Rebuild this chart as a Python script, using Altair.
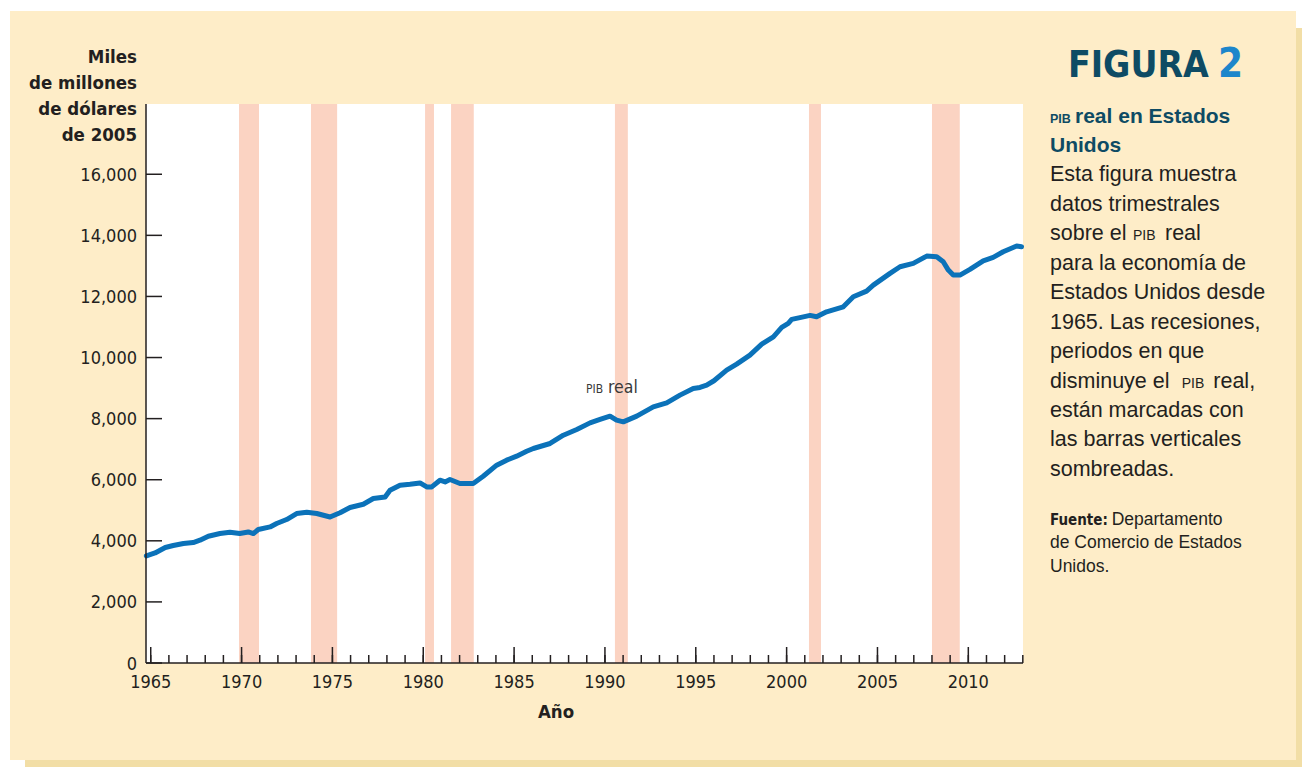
import altair as alt
import pandas as pd

# ---------------- data ----------------
years = [1964.76, 1965.24, 1965.80, 1966.24, 1966.80, 1967.34, 1967.71, 1968.17, 1968.81,
         1969.36, 1969.90, 1970.37, 1970.65, 1970.92, 1971.57, 1971.93, 1972.48, 1973.03,
         1973.59, 1974.14, 1974.87, 1975.42, 1975.97, 1976.70, 1977.25, 1977.90, 1978.17,
         1978.72, 1979.27, 1979.82, 1980.19, 1980.47, 1980.92, 1981.20, 1981.47, 1982.02,
         1982.57, 1982.75, 1983.30, 1984.04, 1984.59, 1985.14, 1985.69, 1986.06, 1986.98,
         1987.71, 1988.45, 1989.18, 1989.73, 1990.28, 1990.64, 1991.01, 1991.75, 1992.66,
         1993.40, 1994.13, 1994.86, 1995.23, 1995.60, 1996.00, 1996.70, 1997.25, 1997.98,
         1998.63, 1999.27, 1999.73, 2000.09, 2000.28, 2000.92, 2001.29, 2001.65, 2001.84,
         2002.20, 2002.75, 2003.12, 2003.67, 2004.40, 2004.77, 2005.69, 2006.24, 2006.97,
         2007.71, 2008.26, 2008.62, 2008.90, 2009.17, 2009.54, 2010.09, 2010.82, 2011.37,
         2011.92, 2012.66, 2012.93]
gdp = [3505, 3603, 3780, 3845, 3911, 3943, 4019, 4150, 4238,
       4281, 4238, 4291, 4238, 4369, 4455, 4566, 4697, 4893,
       4936, 4893, 4780, 4920, 5090, 5198, 5385, 5437, 5657,
       5821, 5853, 5896, 5765, 5765, 5984, 5929, 6007, 5876,
       5876, 5876, 6115, 6476, 6640, 6771, 6930, 7022, 7186,
       7458, 7645, 7861, 7973, 8081, 7950, 7894, 8081, 8386,
       8517, 8769, 8988, 9021, 9096, 9240, 9587, 9784, 10079,
       10439, 10678, 10986, 11117, 11248, 11333, 11379, 11333, 11389,
       11497, 11595, 11661, 11988, 12175, 12371, 12755, 12971, 13082,
       13321, 13298, 13134, 12862, 12699, 12699, 12885, 13167, 13279,
       13462, 13649, 13629]

rec_start = [1969.86, 1973.82, 1980.10, 1981.53, 1990.55, 2001.23, 2008.00]
rec_end = [1970.96, 1975.26, 1980.59, 1982.78, 1991.26, 2001.89, 2009.53]

x_major = [1965, 1970, 1975, 1980, 1985, 1990, 1995, 2000, 2005, 2010]
x_labels = ["1965", "1970", "1975", "1980", "1985", "1990", "1995", "2000", "2005", "2010"]
x_minor = list(range(1965, 2014))
y_ticks = [0, 2000, 4000, 6000, 8000, 10000, 12000, 14000, 16000]
y_labels = ["0", "2,000", "4,000", "6,000", "8,000", "10,000", "12,000", "14,000", "16,000"]

y_title = ["Miles", "de millones", "de dólares", "de 2005"]
body_lines = ["Esta figura muestra", "datos trimestrales", "sobre el",
              "para la economía de", "Estados Unidos desde", "1965. Las recesiones,",
              "periodos en que", "disminuye el", "están marcadas con",
              "las barras verticales", "sombreadas."]

# ---------------- styling ----------------
W, H = 877, 559
NARROW = "DejaVu Sans Condensed, Liberation Sans, sans-serif"
BODY = "Liberation Sans, Arial, sans-serif"
INK = "#231F20"
CREAM = "#FEEDC8"
SHADOW = "#F2DEA6"
TEAL = "#0E4B64"
BLUE2 = "#1D86CB"
LINE = "#0B72B9"
REC = "#FBD3C2"

xs = alt.Scale(domain=[1964.74, 2013.01], nice=False, zero=False)
ys = alt.Scale(domain=[0, 18300], nice=False, zero=True)

dummy = pd.DataFrame({"k": [0]})
line_df = pd.DataFrame({"year": years, "gdp": gdp})
rec_df = pd.DataFrame({"start": rec_start, "end": rec_end})
maj_df = pd.DataFrame({"year": x_major, "label": x_labels})
min_df = pd.DataFrame({"year": x_minor})
yt_df = pd.DataFrame({"v": y_ticks, "label": y_labels})


def box(x1, x2, y1, y2, color):
    return alt.Chart(dummy).mark_rect(color=color).encode(
        x=alt.value(x1), x2=alt.value(x2), y=alt.value(y1), y2=alt.value(y2))


def txt(s, x, y, size, font=BODY, weight="normal", color=INK, align="left"):
    return alt.Chart(dummy).mark_text(
        font=font, fontSize=size, fontWeight=weight, color=color, align=align,
        baseline="alphabetic").encode(x=alt.value(x), y=alt.value(y), text=alt.value(s))


layers = [
    box(-136, 1150, -93, 656, CREAM),
    box(1150, 1156, -76, 663, SHADOW),
    box(-121, 1156, 656, 663, SHADOW),
    box(0, W, 0, H, "white"),
    alt.Chart(rec_df).mark_rect(color=REC).encode(
        x=alt.X("start:Q", scale=xs, axis=None), x2="end:Q",
        y=alt.value(0), y2=alt.value(H)),
    alt.Chart(line_df).mark_line(color=LINE, strokeWidth=5, strokeCap="round",
                                 strokeJoin="round").encode(
        x=alt.X("year:Q", scale=xs, axis=None),
        y=alt.Y("gdp:Q", scale=ys, axis=None)),
    # axis lines
    alt.Chart(dummy).mark_rule(color=INK, strokeWidth=1.5).encode(
        x=alt.value(0), x2=alt.value(W), y=alt.value(H)),
    alt.Chart(dummy).mark_rule(color=INK, strokeWidth=1.5).encode(
        x=alt.value(0), y=alt.value(0), y2=alt.value(H)),
    # ticks
    alt.Chart(maj_df).mark_rule(color=INK, strokeWidth=1.5).encode(
        x=alt.X("year:Q", scale=xs, axis=None), y=alt.value(H), y2=alt.value(H - 16)),
    alt.Chart(min_df).mark_rule(color=INK, strokeWidth=1.5).encode(
        x=alt.X("year:Q", scale=xs, axis=None), y=alt.value(H), y2=alt.value(H - 8)),
    alt.Chart(yt_df).mark_rule(color=INK, strokeWidth=1.5).encode(
        y=alt.Y("v:Q", scale=ys, axis=None), x=alt.value(0), x2=alt.value(16)),
    # tick labels
    alt.Chart(maj_df).mark_text(font=NARROW, fontSize=18, color=INK, align="center",
                                baseline="alphabetic").encode(
        x=alt.X("year:Q", scale=xs, axis=None), y=alt.value(H + 25), text="label:N"),
    alt.Chart(yt_df).mark_text(font=NARROW, fontSize=18, color=INK, align="right",
                               baseline="alphabetic", dy=6.5).encode(
        y=alt.Y("v:Q", scale=ys, axis=None), x=alt.value(-9), text="label:N"),
    # in-chart label
    txt("PIB", 440, 288.7, 12, NARROW, color="#3A3A3A"),
    txt("real", 462, 288.7, 17.5, NARROW, color="#3A3A3A"),
    # axis title
    txt("Año", 410, 614, 18.5, NARROW, "bold", align="center"),
    # side panel
    txt("FIGURA", 922, -27.3, 37, NARROW, "bold", TEAL),
    txt("2", 1072, -27.3, 40, NARROW, "bold", BLUE2),
    txt("PIB", 904, 19, 12.5, BODY, "bold", TEAL),
    txt("real en Estados", 929, 19, 21, BODY, "bold", TEAL),
    txt("Unidos", 904, 48, 21, BODY, "bold", TEAL),
    txt("PIB", 987, 136, 14),
    txt("real", 1019, 136, 21.5),
    txt("PIB", 1035.7, 283.5, 14),
    txt("real,", 1067.3, 283.5, 21.5),
    txt("Fuente:", 904, 421, 15, NARROW, "bold"),
    txt("Departamento", 965.7, 421, 17.5),
    txt("de Comercio de Estados", 904, 444.3, 17.5),
    txt("Unidos.", 904, 467.7, 17.5),
]

for s, yy in zip(y_title, [-40.7, -14.7, 11, 36.7]):
    layers.append(txt(s, -9, yy, 18.5, NARROW, "bold", align="right"))

body_y = [77, 106.5, 136, 165.5, 195, 224.5, 254, 283.5, 313, 342, 371.5]
for s, yy in zip(body_lines, body_y):
    layers.append(txt(s, 904, yy, 21.5))

chart = alt.layer(*layers).properties(
    width=W, height=H,
    padding={"left": 138, "top": 96, "right": 279, "bottom": 104},
    autosize=alt.AutoSizeParams(type="none"),
    background="white",
).configure_view(stroke=None)

chart.save("out.html", embed_options={"renderer": "svg", "actions": False})
